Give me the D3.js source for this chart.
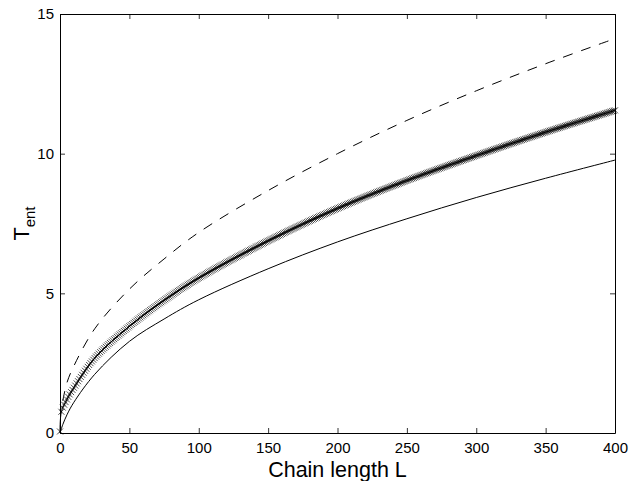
<!DOCTYPE html>
<html>
<head>
<meta charset="utf-8">
<script src="https://cdn.jsdelivr.net/npm/d3@7"></script>
<style>
  body { margin: 0; background: #fff; }
  svg { display: block; font-family: "Liberation Sans", Arial, sans-serif; }
</style>
</head>
<body>
<div id="chart"></div>
<script>
// values
const solidL = [0, 2, 5, 10, 25, 50, 75, 100, 150, 200, 250, 300, 350, 400]
const solidT = [0, 0.3, 0.65, 1.1, 2.1, 3.28, 4.08, 4.77, 5.88, 6.84, 7.67, 8.43, 9.12, 9.77]

const markedL = [0, 1, 5, 10, 25, 50, 75, 100, 150, 200, 250, 300, 350, 400]
const markedT = [0, 0.76, 1.2, 1.62, 2.68, 3.82, 4.75, 5.55, 6.88, 8.04, 9.04, 9.93, 10.77, 11.55]

const dashedL = [2, 5, 10, 25, 50, 75, 100, 150, 200, 250, 300, 350, 400]
const dashedT = [1.15, 1.8, 2.4, 3.73, 5.15, 6.23, 7.18, 8.68, 10.0, 11.19, 12.25, 13.22, 14.12]

// one x marker at every chain length
const markerL = d3.range(0, 401)

const xTicks = [0, 50, 100, 150, 200, 250, 300, 350, 400]
const yTicks = [0, 5, 10, 15]

const dms = {
  width: 638,
  height: 481,
  margin: { top: 14, right: 23, bottom: 48, left: 60 }
}
const contentWidth = dms.width - dms.margin.left - dms.margin.right
const contentHeight = dms.height - dms.margin.top - dms.margin.bottom

const svg = d3.select('#chart')
  .append('svg')
  .attr('width', dms.width)
  .attr('height', dms.height)

const content = svg.append('g')
  .attr('transform', `translate(${dms.margin.left},${dms.margin.top})`)

const xScale = d3.scaleLinear().domain([0, 400]).range([0, contentWidth])
const yScale = d3.scaleLinear().domain([0, 15]).range([contentHeight, 0])

// axes, ticks pointing inward on all four sides
const tick = 5
content.append('g')
  .attr('transform', `translate(0,${contentHeight})`)
  .call(d3.axisBottom(xScale).tickValues(xTicks).tickSizeInner(-tick).tickSizeOuter(0).tickPadding(9.5))
content.append('g')
  .call(d3.axisLeft(yScale).tickValues(yTicks).tickSizeInner(-tick).tickSizeOuter(0).tickPadding(6))
content.append('g')
  .call(d3.axisTop(xScale).tickValues(xTicks).tickSizeInner(-tick).tickSizeOuter(0).tickFormat(''))
content.append('g')
  .attr('transform', `translate(${contentWidth},0)`)
  .call(d3.axisRight(yScale).tickValues(yTicks).tickSizeInner(-tick).tickSizeOuter(0).tickFormat(''))

content.selectAll('.domain').attr('stroke', '#000').attr('stroke-width', 1)
content.selectAll('.tick line').attr('stroke', '#000').attr('stroke-width', 0.8)
content.selectAll('.tick text')
  .attr('fill', '#000')
  .style('font-family', '"Liberation Sans", Arial, sans-serif')
  .style('font-size', '15px')

// curves
const line = d3.line()
  .x(d => xScale(d[0]))
  .y(d => yScale(d[1]))
  .curve(d3.curveCatmullRom.alpha(0.5))

const lines = content.append('g')
  .attr('fill', 'none')
  .attr('stroke', '#000')

lines.append('path')
  .attr('d', line(d3.zip(solidL, solidT)))
  .attr('stroke-width', 1)

lines.append('path')
  .attr('d', line(d3.zip(dashedL, dashedT)))
  .attr('stroke-width', 1)
  .attr('stroke-dasharray', '10,9')

const markedPath = lines.append('path')
  .attr('d', line(d3.zip(markedL, markedT)))
  .attr('stroke-width', 1)

// put the x markers on the drawn line at each integer L
const node = markedPath.node()
const total = node.getTotalLength()
function pointAtX(px) {
  let lo = 0, hi = total
  for (let i = 0; i < 30; i++) {
    const mid = (lo + hi) / 2
    if (node.getPointAtLength(mid).x < px) lo = mid
    else hi = mid
  }
  return node.getPointAtLength((lo + hi) / 2)
}

const s = 3
lines.append('g')
  .attr('stroke-width', 0.7)
  .selectAll('path')
  .data(markerL)
  .join('path')
  .attr('d', L => {
    const p = pointAtX(xScale(L))
    return `M${p.x - s},${p.y - s}L${p.x + s},${p.y + s}M${p.x - s},${p.y + s}L${p.x + s},${p.y - s}`
  })

// axis labels
svg.append('text')
  .attr('x', dms.margin.left + contentWidth / 2)
  .attr('y', 477)
  .attr('text-anchor', 'middle')
  .style('font-size', '21.5px')
  .text('Chain length L')

const yLabel = svg.append('text')
  .attr('transform', `translate(29,${dms.margin.top + contentHeight / 2}) rotate(-90)`)
  .attr('text-anchor', 'middle')
  .style('font-size', '21.5px')
yLabel.append('tspan').text('T')
yLabel.append('tspan').attr('dy', 6).style('font-size', '15px').text('ent')
</script>
</body>
</html>
